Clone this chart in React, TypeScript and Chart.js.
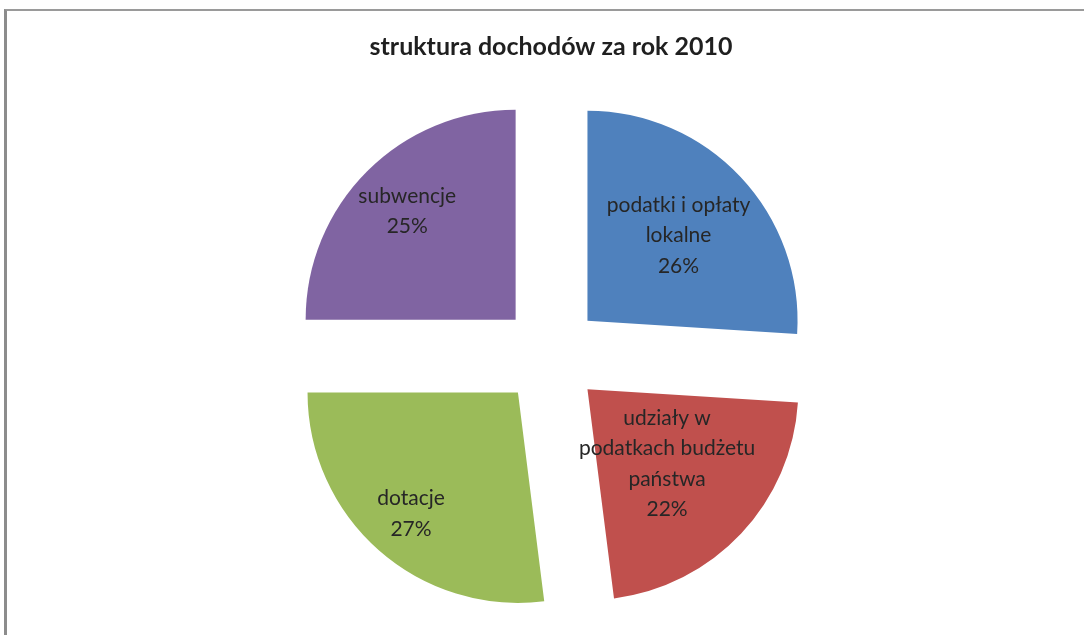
import React, { useEffect, useRef } from "react";
import { Chart, registerables } from "chart.js";

Chart.register(...registerables);

const titleText = "struktura dochodów za rok 2010";
const categories: string[][] = [
  ["podatki i opłaty", "lokalne"],
  ["udziały w", "podatkach budżetu", "państwa"],
  ["dotacje"],
  ["subwencje"],
];
const values: number[] = [26, 22, 27, 25];
const colors: string[] = ["#4f81bd", "#c0504d", "#9bbb59", "#8064a2"];

const labelPlugin = {
  id: "sliceLabels",
  afterDatasetsDraw(chart: any, _args: any, opts: any) {
    const ctx = chart.ctx;
    const meta = chart.getDatasetMeta(0);
    const dist: number[] = opts.distance || [];
    ctx.save();
    ctx.font = "21px Lato";
    ctx.fillStyle = "#262626";
    ctx.textAlign = "center";
    ctx.textBaseline = "middle";
    meta.data.forEach((arc: any, i: number) => {
      const { x, y, startAngle, endAngle, outerRadius } = arc.getProps(
        ["x", "y", "startAngle", "endAngle", "outerRadius"],
        true
      );
      const half = (startAngle + endAngle) / 2;
      const shift = (arc.options.offset || 0) / 4;
      const d = shift + (dist[i] ?? 0.65) * outerRadius;
      const lx = x + Math.cos(half) * d;
      const ly = y + Math.sin(half) * d;
      const lines = [...categories[i], values[i] + "%"];
      const lh = 30.5;
      const top = ly - ((lines.length - 1) * lh) / 2;
      lines.forEach((t, k) => ctx.fillText(t, lx, top + k * lh));
    });
    ctx.restore();
  },
};

export default function App() {
  const ref = useRef<HTMLCanvasElement>(null);
  useEffect(() => {
    if (!ref.current) return;
    const chart = new Chart(ref.current, {
      type: "pie",
      data: {
        labels: categories,
        datasets: [
          {
            data: values,
            backgroundColor: colors,
            borderWidth: 0,
            offset: 200,
          },
        ],
      },
      options: {
        animation: false,
        responsive: false,
        radius: 210,
        layout: { padding: { left: 18, right: 0, top: 0, bottom: 0 } },
        plugins: {
          legend: { display: false },
          tooltip: { enabled: false },
          title: {
            display: true,
            text: titleText,
            color: "#1f1f1f",
            font: { family: "Lato", size: 25, weight: "bold", lineHeight: 1.2 },
            padding: { top: 32, bottom: 13 },
          },
          sliceLabels: { distance: [0.595, 0.52, 0.77, 0.73] },
        } as any,
      },
      plugins: [labelPlugin],
    });
    return () => chart.destroy();
  }, []);
  return (
    <div style={{ position: "absolute", left: 0, top: 0, width: 1084, height: 635, background: "#fff", overflow: "hidden" }}>
      <div
        style={{
          position: "absolute",
          left: 4,
          top: 9,
          width: 1200,
          height: 800,
          borderLeft: "3px solid #8c8c8c",
          borderTop: "2px solid #9a9a9a",
        }}
      />
      <canvas ref={ref} width={1084} height={635} style={{ position: "absolute", left: 0, top: 0 }} />
    </div>
  );
}
